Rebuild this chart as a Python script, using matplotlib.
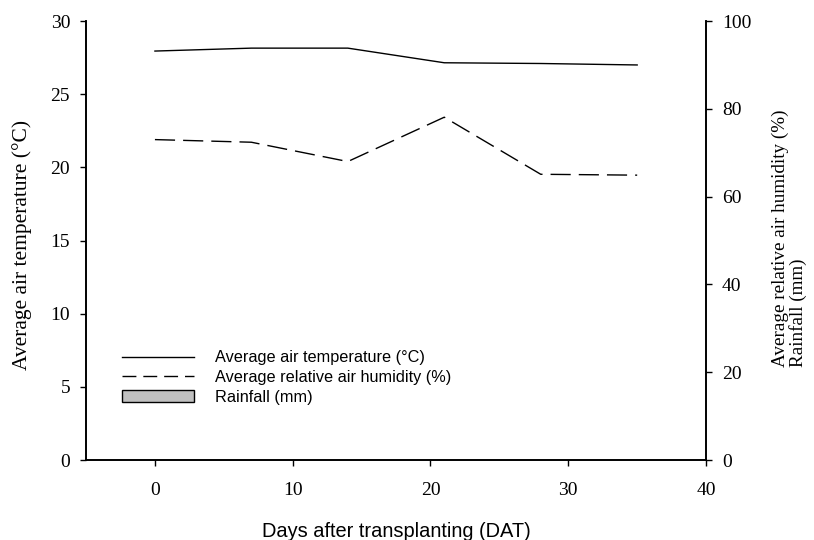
import matplotlib.pyplot as plt
from matplotlib.patches import Patch
from matplotlib.lines import Line2D

# data
days = [0, 7, 14, 21, 28, 35]
temperature = [27.95, 28.15, 28.15, 27.15, 27.1, 27.0]
humidity = [73.0, 72.4, 68.0, 78.1, 65.1, 64.9]

SERIF = ['Liberation Serif', 'DejaVu Serif']
SANS = ['Liberation Sans', 'DejaVu Sans']

fig = plt.figure(figsize=(8.14, 5.4), dpi=100)
ax = fig.add_axes([0.1057, 0.148, 0.7617, 0.813])
ax2 = ax.twinx()

ax.plot(days, temperature, color='black', lw=1.0)
ax2.plot(days, humidity, color='black', lw=1.0, dashes=(14.5, 5.8))

ax.set_xlim(-5, 40)
ax.set_ylim(0, 30)
ax2.set_ylim(0, 100)
ax.set_xticks([0, 10, 20, 30, 40])
ax.set_yticks(range(0, 31, 5))
ax2.set_yticks(range(0, 101, 20))

for a in (ax, ax2):
    a.spines['top'].set_visible(False)
    for s in a.spines.values():
        s.set_linewidth(1.2)
    a.tick_params(direction='out', length=4.5, width=1.0, labelsize=14, pad=7)
    for lab in a.get_xticklabels() + a.get_yticklabels():
        lab.set_family(SERIF)
ax.tick_params(axis='x', pad=11)

ax.set_ylabel('Average air temperature (°C)', family=SERIF, fontsize=15.5)
ax.yaxis.set_label_coords(-0.087, 0.49)
ax.set_xlabel('Days after transplanting (DAT)', family=SANS, fontsize=14.4, labelpad=17)
ax2.text(1.134, 0.212, 'Average relative air humidity (%)\nRainfall (mm)',
         transform=ax2.transAxes, rotation=90, ha='center', va='bottom',
         multialignment='left', family=SERIF, fontsize=13.8, linespacing=1.0)

handles = [Line2D([], [], color='black', lw=1.0),
           Line2D([], [], color='black', lw=1.0, dashes=(10, 5)),
           Patch(facecolor='#c0c0c0', edgecolor='black', lw=1.0)]
labels = ['Average air temperature (°C)', 'Average relative air humidity (%)', 'Rainfall (mm)']
ax.legend(handles, labels, loc='upper left', bbox_to_anchor=(0.058, 0.25), frameon=False,
          borderpad=0, borderaxespad=0, handlelength=4.4, handleheight=0.75,
          handletextpad=1.35, labelspacing=0.3, prop={'family': SANS, 'size': 11.7})

fig.savefig('out.png', dpi=100)
